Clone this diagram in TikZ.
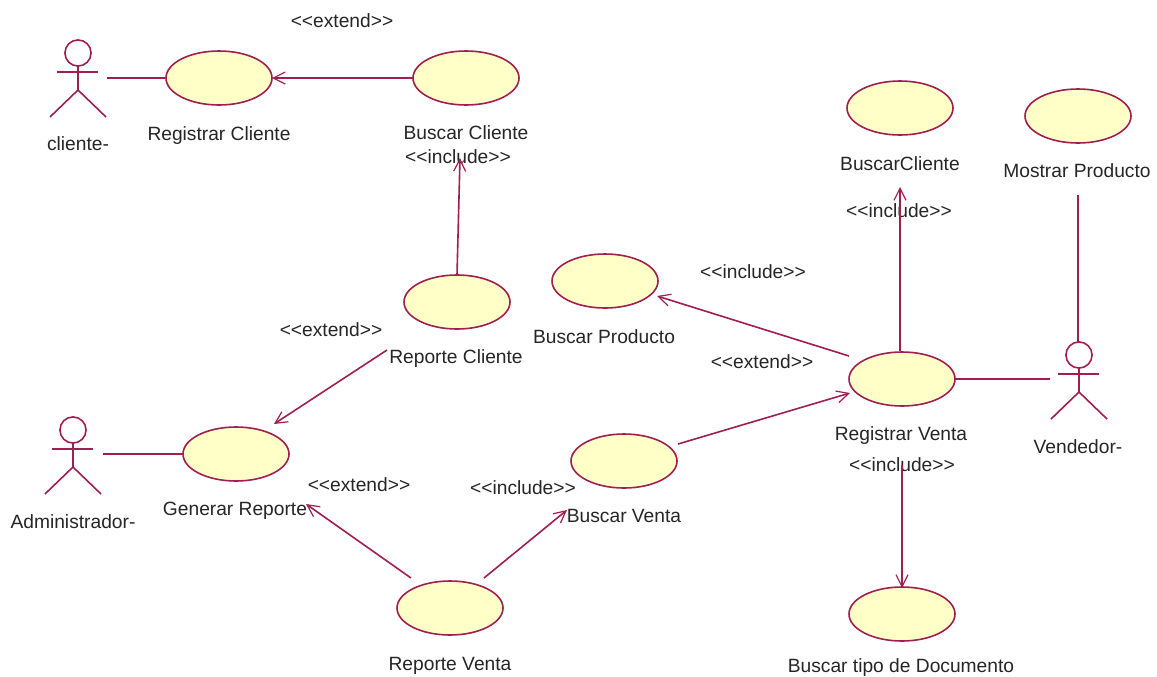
\documentclass[tikz,border=0pt]{standalone}
\usepackage{fontspec}
\setmainfont{Liberation Sans}
\usetikzlibrary{arrows.meta,shapes.geometric}
\definecolor{umlline}{RGB}{160,30,80}
\definecolor{umlfill}{RGB}{255,255,200}
\newcommand{\stinc}{<\kern0pt<include>\kern0pt>}
\newcommand{\stext}{<\kern0pt<extend>\kern0pt>}
\tikzset{
 usecase/.style={ellipse,draw=umlline,fill=umlfill,line width=1.2pt,minimum width=79.5pt,minimum height=40.5pt,inner sep=0pt},
 lbl/.style={font=\fontsize{14.4}{16}\selectfont,text=black!85,inner sep=0pt,anchor=center,text height=10.5pt,text depth=3pt,yshift=-0.75pt},
 assoc/.style={draw=umlline,line width=1.2pt},
 dep/.style={assoc,-{Straight Barb[length=9pt,width=9pt,line width=0.9pt]}},
 actorbox/.style={inner sep=0pt,minimum width=42pt,minimum height=58pt}
}
\newcommand{\umlactor}[3]{% name, head x, head y
 \draw[assoc] (#2,#3) circle (9.8pt);
 \draw[assoc] (#2-21,#3+19) -- (#2+20,#3+19);
 \draw[assoc] (#2,#3+13) -- (#2,#3+37) -- (#2-28,#3+64);
 \draw[assoc] (#2,#3+37) -- (#2+28,#3+64);
 \node[actorbox] (#1) at (#2,#3+26) {};
}
\begin{document}
\begin{tikzpicture}[x=0.75pt,y=-0.75pt]
\useasboundingbox (0,0) rectangle (1157,676);
\fill[white] (0,0) rectangle (1157,676);
% use cases
\node[usecase] (regcli) at (219,78) {};
\node[usecase] (buscli) at (466,78) {};
\node[usecase] (repcli) at (457,302) {};
\node[usecase] (busprod) at (605,281) {};
\node[usecase] (buscliente) at (900,108) {};
\node[usecase] (mostrar) at (1078,116) {};
\node[usecase] (regventa) at (902,379) {};
\node[usecase] (busventa) at (624,461) {};
\node[usecase] (genrep) at (236,454) {};
\node[usecase] (repventa) at (450,608) {};
\node[usecase] (busdoc) at (902,614) {};
% actors
\umlactor{cliente}{78}{53}
\umlactor{vendedor}{1079}{355}
\umlactor{admin}{73}{430}
% labels
\node[lbl] (t1) at (342,21) {\stext};
\node[lbl] (t2) at (219,134) {Registrar Cliente};
\node[lbl] (t3) at (78,144) {cliente-};
\node[lbl] (t4) at (466,133) {Buscar Cliente};
\node[lbl] (t5) at (458,157) {\stinc};
\node[lbl] (t6) at (331,330) {\stext};
\node[lbl] (t7) at (456,357) {Reporte Cliente};
\node[lbl] (t8) at (604,337) {Buscar Producto};
\node[lbl] (t9) at (753,272) {\stinc};
\node[lbl] (t10) at (762,362) {\stext};
\node[lbl] (t11) at (899,211) {\stinc};
\node[lbl] (t12) at (900,164) {BuscarCliente};
\node[lbl] (t13) at (1077,171) {Mostrar Producto};
\node[lbl] (t14) at (901,434) {Registrar Venta};
\node[lbl] (t15) at (902,465) {\stinc};
\node[lbl] (t16) at (1078,447) {Vendedor-};
\node[lbl] (t17) at (359,485) {\stext};
\node[lbl] (t18) at (523,488) {\stinc};
\node[lbl] (t19) at (624,516) {Buscar Venta};
\node[lbl] (t20) at (235,509) {Generar Reporte};
\node[lbl] (t21) at (73,522) {Administrador-};
\node[lbl] (t22) at (450,664) {Reporte Venta};
\node[lbl] (t23) at (901,666) {Buscar tipo de Documento};
% connector ends
\coordinate (a1) at (457,275);
\coordinate (a2) at (460,158);
\coordinate (b1) at (387,350);
\coordinate (b2) at (274,424);
\coordinate (c1) at (849,356);
\coordinate (c2) at (657,296);
\coordinate (d1) at (900,351);
\coordinate (d2) at (900,187);
\coordinate (e1) at (902,465);
\coordinate (e2) at (902,588);
\coordinate (f1) at (678,444);
\coordinate (f2) at (850,393);
\coordinate (g1) at (411,578);
\coordinate (g2) at (306,504);
\coordinate (h1) at (484,578);
\coordinate (h2) at (567,510);
\coordinate (i1) at (1078,195);
\coordinate (i2) at (1078,342);
\coordinate (j1) at (413,78);
\coordinate (j2) at (272,78);
\coordinate (k1) at (955,379);
\coordinate (k2) at (1050,379);
\coordinate (l1) at (107,78);
\coordinate (l2) at (165,78);
\coordinate (m1) at (103,454);
\coordinate (m2) at (183,454);
% connectors
\draw[dep] (j1) -- (j2);
\draw[dep] (a1) -- (a2);
\draw[dep] (b1) -- (b2);
\draw[dep] (c1) -- (c2);
\draw[dep] (d1) -- (d2);
\draw[dep] (e1) -- (e2);
\draw[dep] (f1) -- (f2);
\draw[dep] (g1) -- (g2);
\draw[dep] (h1) -- (h2);
\draw[assoc] (i1) -- (i2);
\draw[assoc] (k1) -- (k2);
\draw[assoc] (l1) -- (l2);
\draw[assoc] (m1) -- (m2);
\end{tikzpicture}
\end{document}
